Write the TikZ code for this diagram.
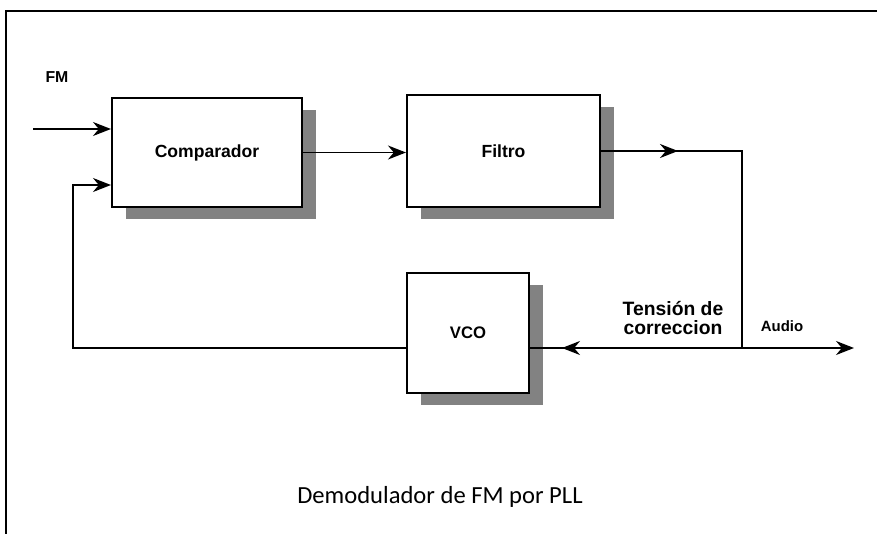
\documentclass[tikz,border=0pt]{standalone}
\usepackage{fontspec}
\setmainfont{Carlito}
\newfontfamily\blockfont{Liberation Sans}
\usepackage{tikz}
\usetikzlibrary{arrows.meta, positioning, shadows, calc}
\definecolor{shadowgray}{HTML}{828282}

\tikzset{
  block/.style={draw, line width=1.2pt, fill=white, font=\blockfont\bfseries\fontsize{10}{12}\selectfont,
    drop shadow={shadow xshift=0.28cm, shadow yshift=-0.24cm, fill=shadowgray, opacity=1}},
  arr/.style={-{Stealth[length=3.6mm, width=2.8mm]}},
  wire/.style={line width=1pt},
  lbl/.style={font=\blockfont\bfseries\fontsize{8.5}{9}\selectfont}
}

\begin{document}
\begin{tikzpicture}[x=0.02cm, y=-0.02cm]
\useasboundingbox (0,0) rectangle (877,534);
% frame
\draw[line width=1.2pt] (6,534) -- (6,11) -- (877,11);

% blocks
\node[block, minimum width=3.8cm, minimum height=2.18cm] (comp) at (207,152.5) {Comparador};
\node[block, minimum width=3.86cm, minimum height=2.24cm] (filt) at (503.5,151) {Filtro};
\node[block, minimum width=2.44cm, minimum height=2.4cm, font=\blockfont\bfseries\fontsize{9.5}{11}\selectfont] (vco) at (468,333) {VCO};

% points
\coordinate (fmin) at (33,129);
\coordinate (fb) at (73,185);
\coordinate (j) at (742,348);
\coordinate (audio) at (854,348);

% connectors
\draw[wire, arr] (fmin) -- (fmin -| comp.west);
\draw[wire, arr] (comp.east) -- (comp.east -| filt.west);
\draw[wire] (filt.east) -| (j);
\draw[wire, arr] (filt.east) -- ++(77,0);
\draw[wire] (j) -- (j -| vco.east);
\draw[wire, arr] (j) -- ++(-180,0);
\draw[wire, arr] (j) -- (audio);
\draw[wire, arr] (j -| vco.west) -| (fb) -- (fb -| comp.west);

% labels
\node[lbl, font=\blockfont\bfseries\fontsize{9}{10}\selectfont] (fm) at (57,77) {FM};
\node[lbl, font=\blockfont\bfseries\fontsize{11}{11}\selectfont, align=center] (tension) at (673,318) {Tensión de\\correccion};
\node[lbl] (aud) at (782,326) {Audio};
\node[font=\fontsize{14}{16}\selectfont] (title) at (440,497) {Demodulador de FM por PLL};
\end{tikzpicture}
\end{document}
